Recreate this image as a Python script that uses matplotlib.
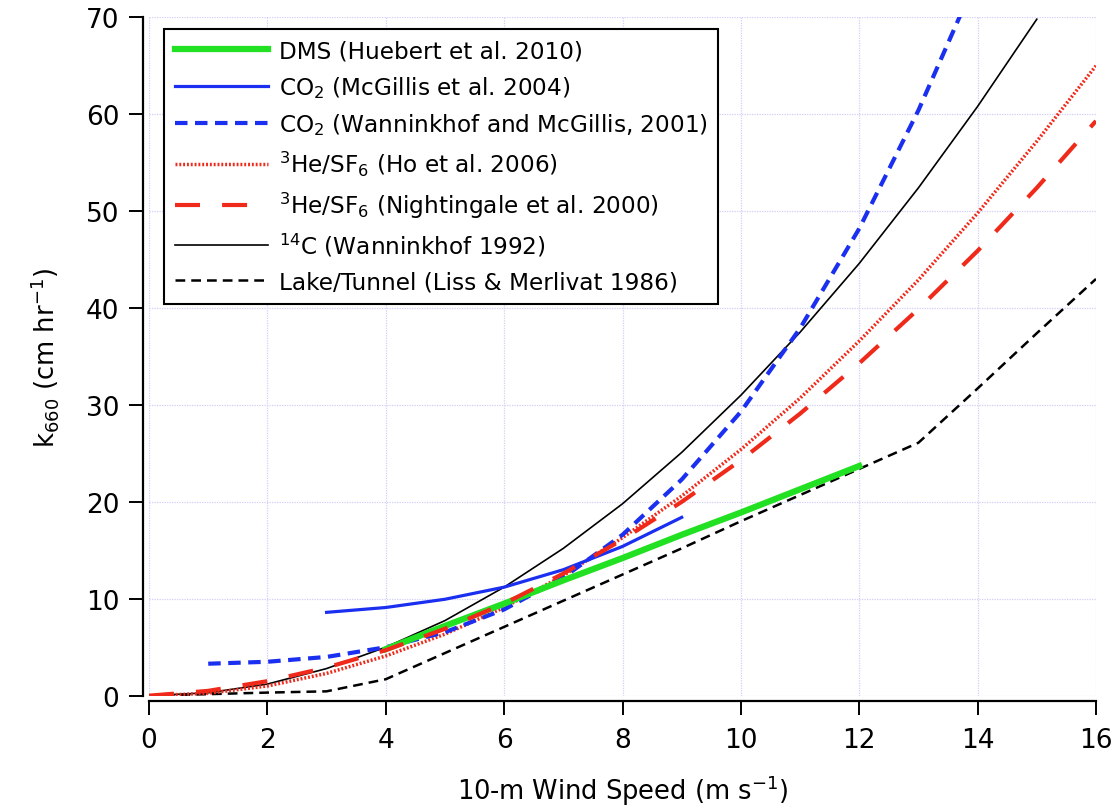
import numpy as np
import matplotlib
matplotlib.use('Agg')
import matplotlib.pyplot as plt

plt.rcParams['font.family'] = ['DejaVu Sans']
plt.rcParams['mathtext.default'] = 'regular'

# gas transfer velocity k660 (cm/hr) against 10-m wind speed (m/s)
windDms = [4, 5, 6, 7, 8, 9, 10, 11, 12]
kDms = [4.8, 7.2, 9.5, 11.9, 14.2, 16.6, 18.9, 21.3, 23.7]

windMcg04 = [3, 4, 5, 6, 7, 8, 9]
kMcg04 = [8.6, 9.1, 9.95, 11.2, 13.0, 15.4, 18.4]

windWm01 = [1, 2, 3, 4, 5, 6, 7, 8, 9, 10, 11, 12, 13, 13.7]
kWm01 = [3.3, 3.5, 4.0, 5.0, 6.55, 8.9, 12.2, 16.6, 22.3, 29.3, 37.9, 48.2, 60.4, 70.1]

windHo06 = [0, 1, 2, 3, 4, 5, 6, 7, 8, 9, 10, 11, 12, 13, 14, 15, 16]
kHo06 = [0, 0.25, 1.0, 2.3, 4.1, 6.35, 9.1, 12.4, 16.3, 20.6, 25.4, 30.7, 36.6, 42.9, 49.8, 57.2, 65.0]

windN00 = [0, 1, 2, 3, 4, 5, 6, 7, 8, 9, 10, 11, 12, 13, 14, 15, 16]
kN00 = [0, 0.5, 1.5, 2.9, 4.7, 6.9, 9.5, 12.6, 16.1, 20.0, 24.3, 29.1, 34.3, 39.9, 45.9, 52.4, 59.3]

windW92 = [0, 1, 2, 3, 4, 5, 6, 7, 8, 9, 10, 11, 12, 13, 14, 15]
kW92 = [0, 0.3, 1.2, 2.8, 5.0, 7.75, 11.2, 15.2, 19.8, 25.1, 31.0, 37.5, 44.6, 52.4, 60.8, 69.8]

windLm86 = [0, 1, 2, 3, 4, 5, 6, 7, 8, 9, 10, 11, 12, 13, 14, 15, 16]
kLm86 = [0, 0.16, 0.32, 0.45, 1.7, 4.4, 7.1, 9.8, 12.5, 15.2, 18.0, 20.7, 23.4, 26.1, 31.7, 37.4, 43.0]

labels = ['DMS (Huebert et al. 2010)',
          'CO$_2$ (McGillis et al. 2004)',
          'CO$_2$ (Wanninkhof and McGillis, 2001)',
          '$^3$He/SF$_6$ (Ho et al. 2006)',
          '$^3$He/SF$_6$ (Nightingale et al. 2000)',
          '$^{14}$C (Wanninkhof 1992)',
          'Lake/Tunnel (Liss & Merlivat 1986)']

fig = plt.figure(figsize=(11.18, 8.12), dpi=100)
ax = fig.add_axes([0.1333, 0.142, 0.847, 0.8355])

green = '#22e022'
blue = '#1a2ff0'
red = '#f02a1a'

ax.plot(windLm86, kLm86, color='black', lw=1.8, linestyle=(0, (3.9, 2.4)), label=labels[6], zorder=3)
ax.plot(windW92, kW92, color='black', lw=1.2, label=labels[5], zorder=3)
ax.plot(windHo06, kHo06, color=red, lw=2.5, linestyle=(0, (0.55, 0.55)), label=labels[3], zorder=3)
ax.plot(windWm01, kWm01, color=blue, lw=3, linestyle=(0, (3, 1.8)), label=labels[2], zorder=3)
ax.plot(windMcg04, kMcg04, color=blue, lw=2.3, label=labels[1], zorder=3)
ax.plot(windDms, kDms, color=green, lw=4.5, label=labels[0], zorder=3)
ax.plot(windN00, kN00, color=red, lw=3, linestyle=(0, (6, 5.3)), label=labels[4], zorder=4)

ax.set_xlim(0, 16)
ax.set_ylim(0, 70)
ax.set_xticks(np.arange(0, 17, 2))
ax.set_yticks(np.arange(0, 71, 10))
ax.grid(True, color='#d0d0f8', linestyle=(0, (1, 1)), lw=0.9)
ax.set_axisbelow(True)

for side in ['top', 'right']:
    ax.spines[side].set_visible(False)
ax.spines['left'].set_position(('outward', 4.3))
ax.spines['bottom'].set_position(('outward', 3.6))
for side in ['left', 'bottom']:
    ax.spines[side].set_linewidth(1.6)
ax.tick_params(direction='out', length=10, width=1.4, labelsize=19)
ax.tick_params(axis='x', pad=9)
ax.tick_params(axis='y', pad=7)

ax.set_xlabel('10-m Wind Speed (m s$^{-1}$)', fontsize=18.5, labelpad=14)
ax.set_ylabel('k$_{660}$ (cm hr$^{-1}$)', fontsize=18.5, labelpad=18)

handles, labs = ax.get_legend_handles_labels()
order = [labs.index(l) for l in labels]
leg = ax.legend([handles[i] for i in order], [labs[i] for i in order],
                loc='upper left', bbox_to_anchor=(0.004, 1.0), fontsize=16.7,
                handlelength=4.0, handletextpad=0.5, labelspacing=0.5,
                borderpad=0.45, fancybox=False, framealpha=1, edgecolor='black')
leg.get_frame().set_linewidth(1.5)

fig.savefig('out.png', dpi=100)
